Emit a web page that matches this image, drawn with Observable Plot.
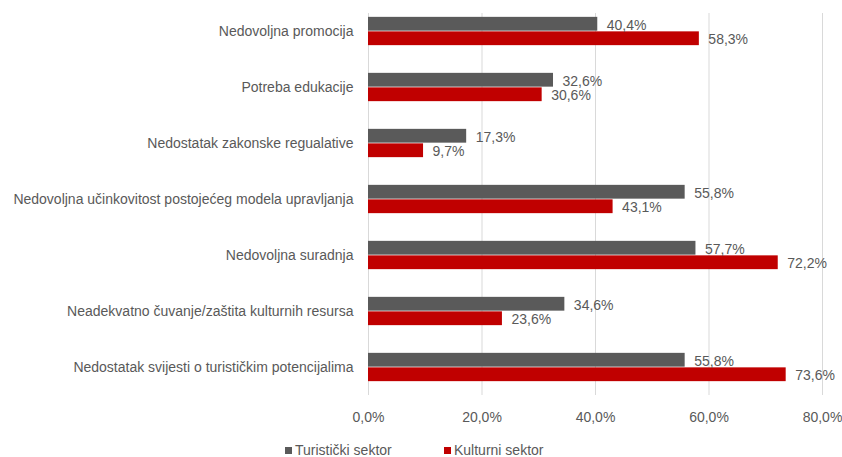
<!DOCTYPE html>
<html>
<head>
<meta charset="utf-8">
<script src="https://cdn.jsdelivr.net/npm/d3@7"></script>
<script src="https://cdn.jsdelivr.net/npm/@observablehq/plot@0.6"></script>
<style>
  html, body { margin: 0; padding: 0; background: #fff; }
  body { width: 842px; height: 457px; overflow: hidden; font-family: "Liberation Sans", Arial, sans-serif; }
  #legend { position: relative; height: 25px; font-size: 14px; color: #595959; }
  .item { position: absolute; top: 10px; display: flex; align-items: center; }
  .sw { width: 7px; height: 7px; margin-right: 3px; }
</style>
</head>
<body>
<div id="chart"></div>
<div id="legend"></div>
<script>
const categories = [
  "Nedovoljna promocija",
  "Potreba edukacije",
  "Nedostatak zakonske regualative",
  "Nedovoljna učinkovitost postojećeg modela upravljanja",
  "Nedovoljna suradnja",
  "Neadekvatno čuvanje/zaštita kulturnih resursa",
  "Nedostatak svijesti o turističkim potencijalima"
];
const turisticki = [40.4, 32.6, 17.3, 55.8, 57.7, 34.6, 55.8];
const kulturni = [58.3, 30.6, 9.7, 43.1, 72.2, 23.6, 73.6];
const seriesNames = ["Turistički sektor", "Kulturni sektor"];
const seriesColors = ["#5a5a5a", "#c00000"];
const xTicks = [0, 20, 40, 60, 80];

const fmt = v => v.toFixed(1).replace(".", ",") + "%";
const tData = categories.map((c, i) => ({category: c, value: turisticki[i]}));
const kData = categories.map((c, i) => ({category: c, value: kulturni[i]}));

const chart = Plot.plot({
  width: 842,
  height: 432,
  marginTop: 13,
  marginBottom: 37,
  marginLeft: 368,
  marginRight: 20,
  style: {fontFamily: '"Liberation Sans", Arial, sans-serif', fontSize: "14px", color: "#595959", background: "#fff"},
  x: {domain: [0, 80], ticks: xTicks, tickFormat: fmt, tickSize: 0, tickPadding: 17, label: null},
  y: {domain: categories, range: [0, 397], paddingInner: 0, paddingOuter: 0, tickSize: 0, tickPadding: 15, label: null},
  marks: [
    Plot.gridX(xTicks, {stroke: "#d9d9d9", strokeOpacity: 1, strokeWidth: 1}),
    Plot.barX(tData, {x: "value", y: "category", fill: seriesColors[0], insetTop: 13.85, insetBottom: 28.35}),
    Plot.barX(kData, {x: "value", y: "category", fill: seriesColors[1], insetTop: 28.35, insetBottom: 13.85}),
    Plot.text(tData, {x: "value", y: "category", text: d => fmt(d.value), textAnchor: "start", dx: 9, dy: -6, fill: "#595959", fontSize: 14}),
    Plot.text(kData, {x: "value", y: "category", text: d => fmt(d.value), textAnchor: "start", dx: 9, dy: 8, fill: "#595959", fontSize: 14})
  ]
});
document.getElementById("chart").appendChild(chart);

const legend = document.getElementById("legend");
const lefts = [285, 444];
seriesNames.forEach((n, i) => {
  const it = document.createElement("div");
  it.className = "item";
  it.style.left = lefts[i] + "px";
  it.innerHTML = `<span class="sw" style="background:${seriesColors[i]}"></span><span>${n}</span>`;
  legend.appendChild(it);
});
</script>
</body>
</html>
